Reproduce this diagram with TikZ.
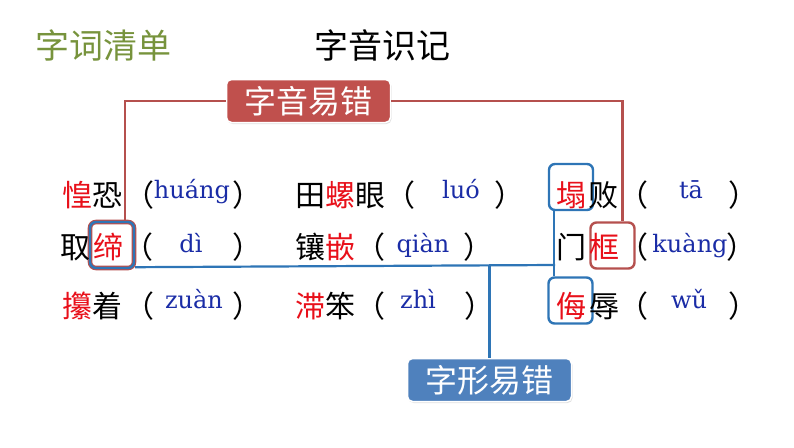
\documentclass[tikz,border=0pt]{standalone}
\usepackage{fontspec}
\usepackage{xcolor}
\usepackage{tikz}
\usetikzlibrary{positioning,shadows}
\newfontfamily\cjk{Noto Sans CJK SC}
\newfontfamily\pyfont{DejaVu Serif}
\definecolor{tagRed}{HTML}{C0504D}
\definecolor{tagBlue}{HTML}{4F81BD}
\definecolor{lineRed}{HTML}{B5504E}
\definecolor{lineBlue}{HTML}{2E75B6}
\definecolor{hzRed}{HTML}{E8101A}
\definecolor{pyBlue}{HTML}{1A2CA6}
\definecolor{olive}{HTML}{77933C}

\begin{document}
\begin{tikzpicture}[x=1pt, y=-1pt,
    heading/.style={font=\cjk\fontsize{34}{40}\selectfont, inner sep=0pt},
    tag/.style={rounded corners=5pt, draw=white, line width=1.5pt, fill=#1,
                text=white, font=\cjk\fontsize{32}{36}\selectfont,
                minimum width=164pt, minimum height=43pt, inner sep=0pt,
                drop shadow={opacity=0.25, shadow xshift=1pt, shadow yshift=-1.5pt}},
    hz/.style={font=\cjk\fontsize{30}{36}\selectfont, anchor=base, inner sep=0pt},
    py/.style={font=\pyfont\fontsize{24}{28}\selectfont, text=pyBlue,
               anchor=base, inner sep=0pt},
    ringbox/.style={draw=#1, line width=2.4pt, rounded corners=6pt,
                    minimum width=44pt, minimum height=46pt, inner sep=0pt},
    link/.style={line width=2.2pt, draw=#1},
  ]
    \useasboundingbox (0,0) rectangle (794,447);

    % --- headings and the two tags -----------------------------------------
    \node[heading, text=olive] (list)  at (103,45) {字词清单};
    \node[heading]             (topic) at (382,45) {字音识记};
    \node[tag=tagRed]  (yin)  at (308.5,101) {字音易错};
    \node[tag=tagBlue] (xing) at (489.5,380) {字形易错};

    % --- marked characters --------------------------------------------------
    \node[ringbox=lineBlue] (ta)    at (571,187)   {};
    \node[ringbox=lineBlue, preaction={draw=lineRed, line width=4.6pt}]
                            (di)    at (112,245)   {};
    \node[ringbox=lineRed]  (kuang) at (612.5,245.5) {};
    \node[ringbox=lineBlue] (wu)    at (570.5,300.5) {};

    % --- words ----------------------------------------------------------------
    \node[hz] (w11) at (92,206)    {{\color{hzRed}惶}恐};
    \node[hz] (w12) at (340,206)   {田{\color{hzRed}螺}眼};
    \node[hz, text=hzRed] (c13) at (571.5,206) {塌};
    \node[hz] (w13) at (603,206)   {败};
    \node[hz] (w21) at (75.5,258)  {取};
    \node[hz, text=hzRed] (c21) at (108.5,258) {缔};
    \node[hz] (w22) at (325,258)   {镶{\color{hzRed}嵌}};
    \node[hz] (w23) at (571,258)   {门};
    \node[hz, text=hzRed] (c23) at (604,258) {框};
    \node[hz] (w31) at (92,317)    {{\color{hzRed}攥}着};
    \node[hz] (w32) at (325,317)   {{\color{hzRed}滞}笨};
    \node[hz, text=hzRed] (c33) at (571,317) {侮};
    \node[hz] (w33) at (604,317)   {辱};

    % --- brackets and pinyin --------------------------------------------------
    \foreach \x/\y/\n in {139.5/206/11, 400.5/206/12, 633.5/206/13,
                          138.5/258/21, 370.5/258/22, 633.5/258/23,
                          139.5/317/31, 370.5/317/32, 633.5/317/33}
      \node[hz] (lp\n) at (\x,\y) {（};
    \foreach \x/\y/\n in {247.5/206/11, 509.5/206/12, 743.5/206/13,
                          247.5/258/21, 478.5/258/22, 741.5/258/23,
                          247.5/317/31, 479.5/317/32, 743.5/317/33}
      \node[hz] (rp\n) at (\x,\y) {）};
    \node[py] (py11) at (192,198) {huáng};
    \node[py] (py12) at (461,198) {luó};
    \node[py] (py13) at (691,198) {tā};
    \node[py] (py21) at (191,252) {dì};
    \node[py] (py22) at (423,252) {qiàn};
    \node[py] (py23) at (690,252) {kuàng};
    \node[py] (py31) at (194,308) {zuàn};
    \node[py] (py32) at (418,308) {zhì};
    \node[py] (py33) at (689,308) {wǔ};

    % --- connectors -----------------------------------------------------------
    \coordinate (jn) at (555,265);
    \draw[link=lineRed] (yin.west) -| ([xshift=-10pt]di.north east);
    \draw[link=lineRed] (yin.east) -| ([xshift=10pt]kuang.north);
    \draw[link=lineBlue] ([yshift=2pt]di.south east) -- (jn);
    \draw[link=lineBlue] ([xshift=6pt]ta.south west) -- ([xshift=6.5pt]wu.north west);
    \draw[link=lineBlue] (xing.north) -- (xing.north |- jn);
  \end{tikzpicture}
\end{document}
